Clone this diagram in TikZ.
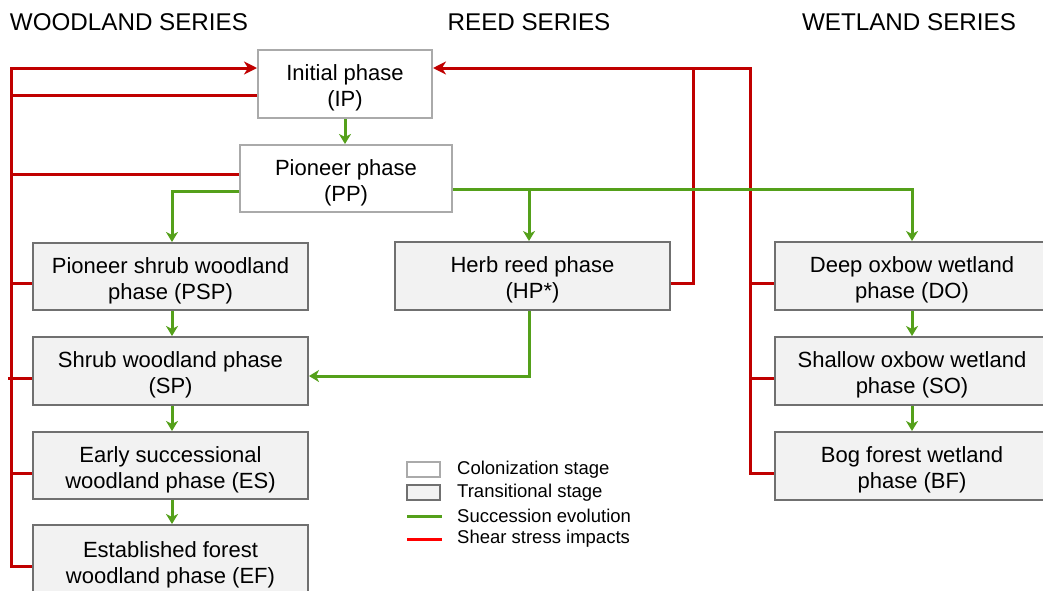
\documentclass[tikz,border=0pt]{standalone}
\usepackage{fontspec}
\setmainfont{Liberation Sans}
\usetikzlibrary{arrows.meta}
\definecolor{shearred}{RGB}{192,0,0}
\definecolor{succgreen}{RGB}{84,160,26}
\definecolor{boxfill}{RGB}{242,242,242}
\definecolor{tborder}{RGB}{112,112,112}
\definecolor{cborder}{RGB}{170,170,170}
\definecolor{legred}{RGB}{255,0,0}
\newcommand{\bxt}[2]{\rule{0pt}{24pt}#1\\#2\rule[-5pt]{0pt}{5pt}}
\begin{document}
\begin{tikzpicture}[x=1pt,y=-1pt,
  colbox/.style={draw=cborder,line width=2pt,fill=white,align=center,inner sep=0pt,
    font=\fontsize{22}{26}\selectfont},
  trbox/.style={draw=tborder,line width=2pt,fill=boxfill,align=center,inner sep=0pt,
    minimum width=275pt,font=\fontsize{22}{26}\selectfont},
  header/.style={font=\fontsize{24.2}{28}\selectfont,inner sep=0pt},
  legtext/.style={font=\fontsize{18.5}{22}\selectfont,anchor=west,inner sep=0pt},
  shear/.style={draw=shearred,line width=3pt},
  succ/.style={draw=succgreen,line width=3pt},
  gtip/.style={-{Stealth[length=10pt,width=12pt,inset=3pt]}},
  rtip/.style={-{Stealth[length=13pt,width=13pt,inset=4pt]}}
]
\useasboundingbox (0,0) rectangle (1043,590);
\clip (0,0) rectangle (1043,590);

% headers
\node[header] (h1) at (129,22) {WOODLAND SERIES};
\node[header] (h2) at (529,22) {REED SERIES};
\node[header] (h3) at (909,22) {WETLAND SERIES};

% boxes
\node[colbox,minimum width=174pt,minimum height=68pt] (IP) at (345,84) {\bxt{Initial phase}{(IP)}};
\node[colbox,minimum width=212pt,minimum height=67pt] (PP) at (346,178.5) {\bxt{Pioneer phase}{(PP)}};
\node[trbox,minimum height=67pt] (PSP) at (170.5,276.5) {\bxt{Pioneer shrub woodland}{phase (PSP)}};
\node[trbox,minimum height=68pt] (SP) at (170.5,371) {\bxt{Shrub woodland phase}{(SP)}};
\node[trbox,minimum height=67pt] (ES) at (170.5,465.5) {\bxt{Early successional}{woodland phase (ES)}};
\node[trbox,minimum height=72pt] (EF) at (170.5,561) {\bxt{Established forest}{woodland phase (EF)}};
\node[trbox,minimum height=68pt] (HP) at (532.5,276) {\bxt{Herb reed phase}{(HP*)}};
\node[trbox,minimum height=68pt] (DO) at (912,276) {\bxt{Deep oxbow wetland}{phase (DO)}};
\node[trbox,minimum height=68pt] (SO) at (912,371) {\bxt{Shallow oxbow wetland}{phase (SO)}};
\node[trbox,minimum height=68pt] (BF) at (912,466) {\bxt{Bog forest wetland}{phase (BF)}};

% bus coordinates
\coordinate (lt) at (11,68);
\coordinate (lb) at (11,566);
\coordinate (l95) at (11,95);
\coordinate (l174) at (11,174);
\coordinate (l283) at (11,283);
\coordinate (l378) at (8,378);
\coordinate (l473) at (11,473);
\coordinate (rt1) at (693,68);
\coordinate (r1) at (693,283);
\coordinate (rt2) at (750,68);
\coordinate (rb2) at (750,473);
\coordinate (r283) at (750,283);
\coordinate (r378) at (750,378);
\coordinate (gsp) at (529,189);
\coordinate (gsp2) at (529,376);
\coordinate (gl) at (172,191);

% shear stress impacts (left)
\draw[shear,rtip] (EF.west |- lb) -- (lb) -- (lt) -- (IP.west |- lt);
\draw[shear] (IP.west |- l95) -- (l95);
\draw[shear] (PP.west |- l174) -- (l174);
\draw[shear] (PSP.west |- l283) -- (l283);
\draw[shear] (SP.west |- l378) -- (l378);
\draw[shear] (ES.west |- l473) -- (l473);

% shear stress impacts (right)
\draw[shear] (BF.west |- rb2) -- (rb2) -- (rt2) -- (rt1);
\draw[shear,rtip] (HP.east |- r1) -- (r1) -- (rt1) -- (IP.east |- rt1);
\draw[shear] (DO.west |- r283) -- (r283);
\draw[shear] (SO.west |- r378) -- (r378);

% succession evolution
\draw[succ,gtip] (IP.south) -- (IP.south |- PP.north);
\draw[succ,gtip] (PP.west |- gl) -- (gl) -- (gl |- PSP.north);
\draw[succ,gtip] (PP.east |- gsp) -| (DO.north);
\draw[succ,gtip] (gsp) -- (gsp |- HP.north);
\draw[succ,gtip] (gsp |- HP.south) -- (gsp2) -- (SP.east |- gsp2);
\draw[succ,gtip] (PSP.south -| gl) -- (SP.north -| gl);
\draw[succ,gtip] (SP.south -| gl) -- (ES.north -| gl);
\draw[succ,gtip] (ES.south -| gl) -- (EF.north -| gl);
\draw[succ,gtip] (DO.south) -- (SO.north);
\draw[succ,gtip] (SO.south) -- (BF.north);

% legend
\node[draw=cborder,line width=2pt,fill=white,minimum width=33pt,minimum height=15pt,inner sep=0pt] (lg1) at (423.5,469.5) {};
\node[draw=tborder,line width=2pt,fill=boxfill,minimum width=33pt,minimum height=15pt,inner sep=0pt] (lg2) at (423.5,492.5) {};
\coordinate (lg3a) at (407,516);
\coordinate (lg3b) at (442,516);
\coordinate (lg4a) at (407,539);
\coordinate (lg4b) at (442,539);
\draw[draw=succgreen,line width=3pt] (lg3a) -- (lg3b);
\draw[draw=legred,line width=3pt] (lg4a) -- (lg4b);
\node[legtext] (t1) at (457,470) {Colonization stage};
\node[legtext] (t2) at (457,493) {Transitional stage};
\node[legtext] (t3) at (457,516) {Succession evolution};
\node[legtext] (t4) at (457,539) {Shear stress impacts};
\end{tikzpicture}
\end{document}
